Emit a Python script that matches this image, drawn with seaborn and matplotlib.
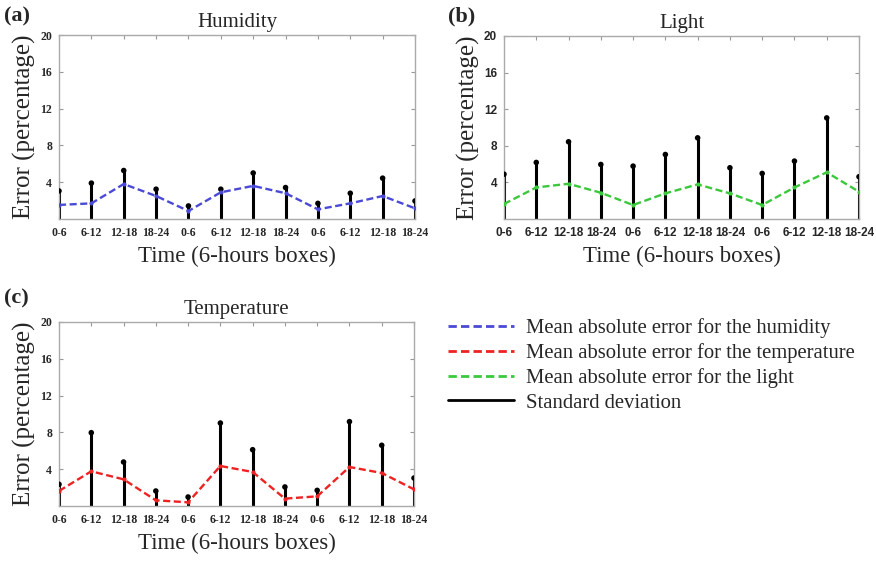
import numpy as np
import matplotlib.pyplot as plt
import seaborn as sns
from matplotlib.lines import Line2D

# Time boxes (three days of 6-hour boxes)
time_labels = ['0-6', '6-12', '12-18', '18-24'] * 3

# Mean absolute error (percentage)
hum_mean = [1.53, 1.7, 3.8, 2.5, 0.87, 2.9, 3.6, 2.8, 1.05, 1.7, 2.5, 1.16]
light_mean = [1.64, 3.45, 3.85, 2.87, 1.53, 2.8, 3.78, 2.8, 1.53, 3.45, 5.1, 2.98]
temp_mean = [1.63, 3.77, 2.9, 0.62, 0.4, 4.35, 3.7, 0.8, 1.05, 4.24, 3.59, 1.81]

# Standard deviation bars (top of each stem)
hum_std = [3.05, 3.9, 5.27, 3.24, 1.42, 3.24, 5.0, 3.42, 1.7, 2.8, 4.44, 1.96]
light_std = [4.9, 6.18, 8.44, 5.96, 5.78, 7.05, 8.87, 5.6, 4.98, 6.33, 11.05, 4.62]
temp_std = [2.36, 7.97, 4.78, 1.63, 0.98, 9.02, 6.12, 2.07, 1.7, 9.17, 6.6, 3.04]

sns.set_style('white')
plt.rcParams['font.family'] = ['Liberation Serif', 'DejaVu Serif']

W, H = 876, 561
fig = plt.figure(figsize=(W / 100, H / 100), dpi=100)


def box(x0, y0, x1, y1):
    return [x0 / W, 1 - y1 / H, (x1 - x0) / W, (y1 - y0) / H]


panels = [
    ('(a)', 'Humidity', hum_mean, hum_std, '#4a4ad6', box(59, 35, 415, 219), 'Liberation Serif', (4, 6)),
    ('(b)', 'Light', light_mean, light_std, '#3cc83c', box(504, 36, 859, 219), 'Liberation Sans', (448, 6)),
    ('(c)', 'Temperature', temp_mean, temp_std, '#ee2222', box(59, 322, 414, 506), 'Liberation Serif', (4, 288)),
]

x = np.arange(len(time_labels))
for tag, title, mean, std, color, rect, tickfont, tagpos in panels:
    ax = fig.add_axes(rect)
    ax.vlines(x, 0, std, color='black', lw=2.2, zorder=2)
    sns.scatterplot(x=x, y=std, ax=ax, color='black', s=16, edgecolor='none', zorder=3)
    sns.lineplot(x=x, y=mean, ax=ax, color=color, lw=1.7, linestyle=(0, (3, 1.5)),
                 marker='o', markersize=3, markeredgewidth=0, zorder=4)
    ax.set_xlim(0, 11)
    ax.set_ylim(0, 20)
    ax.set_xticks(x)
    ax.set_xticklabels(time_labels, fontfamily=tickfont, fontweight='bold', fontsize=8.5)
    ax.set_yticks([4, 8, 12, 16, 20])
    ax.set_yticklabels(['4', '8', '12', '16', '20'], fontfamily=tickfont,
                       fontweight='bold', fontsize=8.5)
    ax.tick_params(direction='in', length=3, width=0.8, color='#999999',
                   top=True, right=True, bottom=True, left=True)
    ax.tick_params(axis='x', pad=6)
    ax.tick_params(axis='y', pad=5)
    for s in ax.spines.values():
        s.set_color('#aaaaaa')
        s.set_linewidth(1.0)
        s.set_visible(True)
    ax.set_title(title, fontsize=15, pad=6)
    ax.set_xlabel('Time (6-hours boxes)', fontsize=16.5, labelpad=5)
    ax.set_ylabel('Error (percentage)', fontsize=18, labelpad=3)
    fig.text(tagpos[0] / W, 1 - tagpos[1] / H, tag, fontsize=16, fontweight='bold',
             va='top', ha='left')

handles = [
    Line2D([], [], color='#4a4ad6', lw=2, linestyle=(0, (3, 1.5))),
    Line2D([], [], color='#ee2222', lw=2, linestyle=(0, (3, 1.5))),
    Line2D([], [], color='#3cc83c', lw=2, linestyle=(0, (3, 1.5))),
    Line2D([], [], color='black', lw=2),
]
labels = ['Mean absolute error for the humidity',
          'Mean absolute error for the temperature',
          'Mean absolute error for the light',
          'Standard deviation']
fig.legend(handles, labels, loc='upper left', bbox_to_anchor=(448 / W, 1 - 318 / H),
           frameon=False, fontsize=14.9, handlelength=3.2, handletextpad=0.55,
           labelspacing=0.25, borderaxespad=0, borderpad=0)

fig.savefig('out.png', dpi=100)
